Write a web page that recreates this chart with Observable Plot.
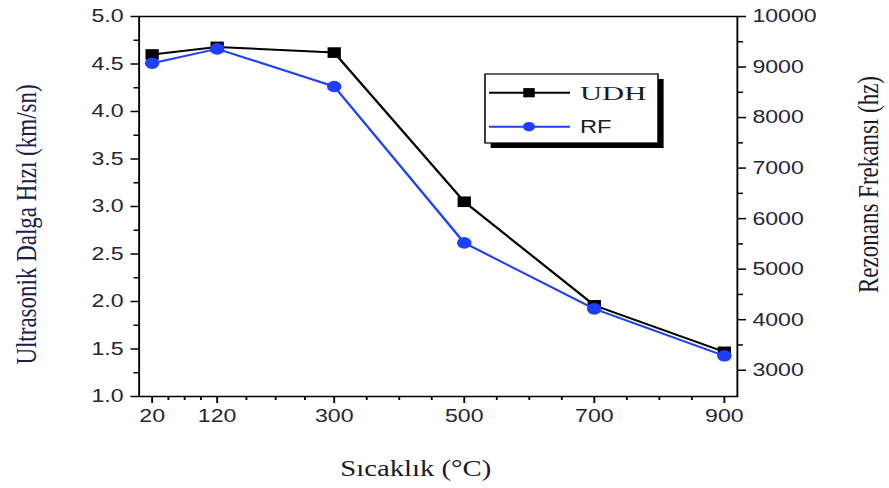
<!DOCTYPE html>
<html>
<head>
<meta charset="utf-8">
<script src="https://cdn.jsdelivr.net/npm/d3@7"></script>
<script src="https://cdn.jsdelivr.net/npm/@observablehq/plot@0.6"></script>
<style>
  html, body { margin: 0; padding: 0; background: #fff; }
  #chart svg g[aria-label$="tick label"] { fill: #252535; }
</style>
</head>
<body>
<div id="chart"></div>
<script>
// ---- data ----
const temps = [20, 120, 300, 500, 700, 900];            // Sıcaklık (°C)
const udh = [4.60, 4.68, 4.62, 3.05, 1.96, 1.47];       // Ultrasonik Dalga Hızı (km/sn)
const rf = [9075, 9360, 8615, 5520, 4215, 3285];        // Rezonans Frekansı (hz)
const seriesNames = ["UDH", "RF"];
const xTicks = [20, 120, 300, 500, 700, 900];
const xMinor = [45, 70, 95, 165, 210, 255, 350, 400, 450, 550, 600, 650, 750, 800, 850];
const yTicks = [1.0, 1.5, 2.0, 2.5, 3.0, 3.5, 4.0, 4.5, 5.0];
const yMinor = [1.25, 1.75, 2.25, 2.75, 3.25, 3.75, 4.25, 4.75];
const hzTicks = [3000, 4000, 5000, 6000, 7000, 8000, 9000, 10000];
const hzMinor = [3500, 4500, 5500, 6500, 7500, 8500, 9500];
const xLabel = "Sıcaklık (°C)";
const yLabel = "Ultrasonik Dalga Hızı (km/sn)";
const y2Label = "Rezonans Frekansı (hz)";

// ---- layout ----
const STRETCH = 1.25;           // the reference is horizontally stretched
const W = 889 / STRETCH, H = 488;
const black = "#000000", blue = "#1f3fff";

const hzToY = d3.scaleLinear().domain([2480, 10000]).range([1, 5]);

const udhData = temps.map((t, i) => ({t, v: udh[i]}));
const rfData = temps.map((t, i) => ({t, v: hzToY(rf[i])}));

const svg = Plot.plot({
  width: W,
  height: H,
  marginLeft: 110.8,
  marginRight: 121.8,
  marginTop: 16,
  marginBottom: 92,
  x: {domain: [0, 920]},
  y: {domain: [1, 5]},
  style: {fontFamily: "'Liberation Sans', Arial, sans-serif", fontSize: "18.5px", color: "#000", background: "#fff"},
  marks: [
    Plot.frame({stroke: black, strokeWidth: 1.5}),
    Plot.axisX(xTicks, {tickSize: 7, tickPadding: 5, tickFormat: d => String(d), label: null, strokeWidth: 1.5}),
    Plot.axisX(xMinor, {tickSize: 4, tickFormat: () => "", label: null, strokeWidth: 1.5}),
    Plot.axisY(yTicks, {anchor: "left", tickSize: 6.4, tickPadding: 6, tickFormat: d3.format(".1f"), label: null, strokeWidth: 1.5}),
    Plot.axisY(yMinor, {anchor: "left", tickSize: 4, tickFormat: () => "", label: null, strokeWidth: 1.5}),
    Plot.axisY(hzTicks.map(hzToY), {anchor: "right", tickSize: 6.4, tickPadding: 5.6, tickFormat: v => String(Math.round(hzToY.invert(v) / 10) * 10), label: null, strokeWidth: 1.5}),
    Plot.axisY(hzMinor.map(hzToY), {anchor: "right", tickSize: 4, tickFormat: () => "", label: null, strokeWidth: 1.5}),
    Plot.line(udhData, {x: "t", y: "v", stroke: black, strokeWidth: 2}),
    Plot.dot(udhData, {x: "t", y: "v", symbol: "square", r: 6, fill: black}),
    Plot.line(rfData, {x: "t", y: "v", stroke: blue, strokeWidth: 2}),
    Plot.dot(rfData, {x: "t", y: "v", symbol: "circle", r: 5.8, fill: blue}),
    Plot.text([xLabel], {text: d => d, frameAnchor: "bottom", textAnchor: "middle", lineAnchor: "middle", dx: -18, dy: 72, fontFamily: "'Liberation Serif', 'Times New Roman', serif", fontSize: 23, fill: "#1a1a2a"}),
    Plot.text([yLabel], {text: d => d, frameAnchor: "left", textAnchor: "middle", lineAnchor: "middle", rotate: -90, dx: -90, dy: 18, fontFamily: "'Liberation Serif', 'Times New Roman', serif", fontSize: 23, fill: "#1a2048"}),
    Plot.text([y2Label], {text: d => d, frameAnchor: "right", textAnchor: "middle", lineAnchor: "middle", rotate: -90, dx: 105, dy: -22, fontFamily: "'Liberation Serif', 'Times New Roman', serif", fontSize: 23, fill: "#1a1a2a"})
  ]
});

// stretch horizontally like the reference
svg.setAttribute("width", 889);
svg.setAttribute("height", H);
svg.setAttribute("viewBox", `0 0 ${W} ${H}`);
svg.setAttribute("preserveAspectRatio", "none");
svg.style.maxWidth = "none";
svg.style.height = H + "px";
svg.style.width = "889px";

// legend
const lg = d3.select(svg).append("g").attr("aria-label", "legend");
const bx = 388, by = 74, bw = 138.4, bh = 69;
lg.append("rect").attr("x", bx + 4.5).attr("y", by + 5).attr("width", bw).attr("height", bh).attr("fill", "#000");
lg.append("rect").attr("x", bx).attr("y", by).attr("width", bw).attr("height", bh).attr("fill", "#fff").attr("stroke", "#000").attr("stroke-width", 1.2);
const rows = [
  {name: seriesNames[0], color: black, sym: "square", y: 92.7, font: "'Liberation Serif', 'Times New Roman', serif", size: 19.5, len: 53},
  {name: seriesNames[1], color: blue, sym: "circle", y: 126.7, font: "'Liberation Sans', Arial, sans-serif", size: 18.5, len: 25.3}
];
rows.forEach(r => {
  lg.append("line").attr("x1", 391.2).attr("x2", 456).attr("y1", r.y).attr("y2", r.y).attr("stroke", r.color).attr("stroke-width", 2);
  if (r.sym === "square") {
    lg.append("rect").attr("x", 423.2 - 4.6).attr("y", r.y - 4.6).attr("width", 9.2).attr("height", 9.2).attr("fill", r.color);
  } else {
    lg.append("circle").attr("cx", 423.2).attr("cy", r.y).attr("r", 4.8).attr("fill", r.color);
  }
  lg.append("text").attr("x", 464).attr("y", r.y).attr("dy", "0.35em").attr("text-anchor", "start")
    .attr("font-family", r.font).attr("font-size", r.size)
    .attr("fill", "#1a1a2a").attr("textLength", r.len).attr("lengthAdjust", "spacingAndGlyphs").text(r.name);
});

document.getElementById("chart").appendChild(svg);
</script>
</body>
</html>
